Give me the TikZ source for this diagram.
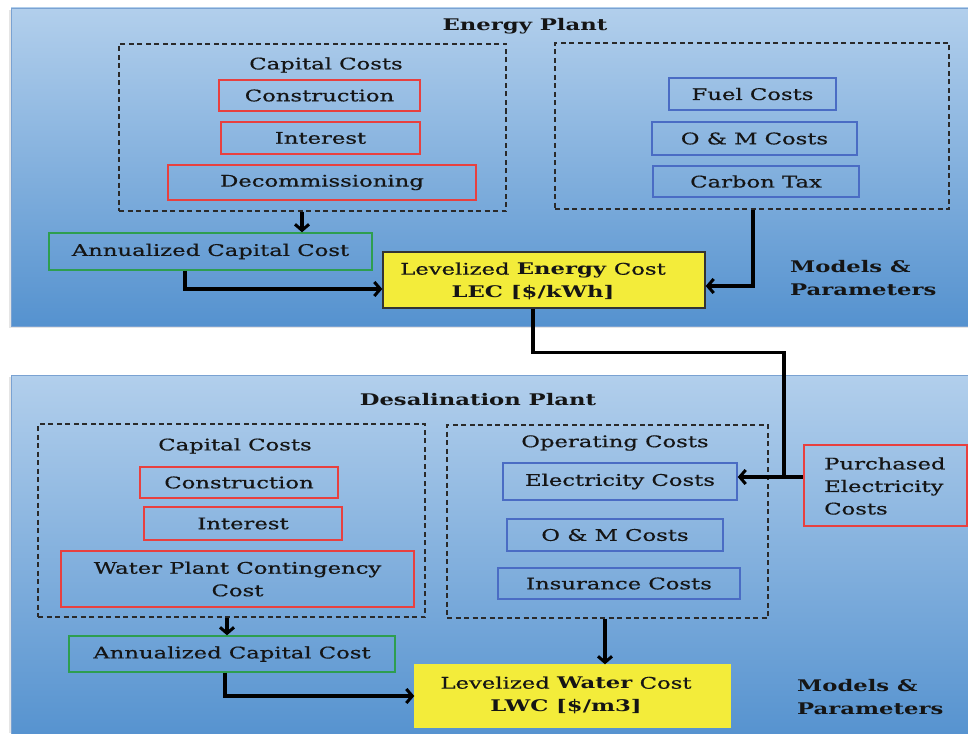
\documentclass[tikz,border=0pt]{standalone}
\usepackage{fontspec}
\setmainfont{DejaVu Serif}[FakeStretch=1.42, UprightFeatures={FakeBold=0.6}]
\usetikzlibrary{arrows.meta,calc}
\definecolor{panelTop}{HTML}{B2CFEC}
\definecolor{panelBot}{HTML}{5592CF}
\definecolor{panelLine}{HTML}{7AA2D2}
\definecolor{redc}{HTML}{E8403F}
\definecolor{bluec}{HTML}{4A6CC4}
\definecolor{greenc}{HTML}{2E9E50}
\definecolor{yel}{HTML}{F3EC3A}
\definecolor{dashc}{HTML}{2A2A2A}
\definecolor{txt}{HTML}{151515}
\newcommand{\fs}{\fontsize{16}{22.5}\selectfont}
\begin{document}
\begin{tikzpicture}[x=1pt,y=-1pt,
  lbl/.style={font=\fs, text=txt, inner sep=0pt, align=center},
  box/.style={draw, line width=1.4pt, inner sep=0pt, font=\fs, text=txt, align=center},
  redbox/.style={box, draw=redc},
  bluebox/.style={box, draw=bluec},
  greenbox/.style={box, draw=greenc},
  dbox/.style={draw=dashc, dash pattern=on 5pt off 3.5pt, line width=1.3pt, inner sep=0pt},
  conn/.style={line width=3.4pt, draw=black, line join=miter},
  arr/.style={conn, -{Straight Barb[length=6pt,width=14pt,line width=3pt]}},
  panel/.style={top color=panelTop, bottom color=panelBot, draw=panelLine, line width=0.8pt},
  shadowc/.style={fill=black!10},
]
\useasboundingbox (0,0) rectangle (968,733);
% panels
\fill[shadowc] (9,10) rectangle (968,328);
\path[panel] (11,8) rectangle (968,326);
\fill[shadowc] (9,377) rectangle (968,733);
\path[panel] (11,375) rectangle (968,740);

% ---------- Energy plant ----------
\node[lbl, font=\fs\bfseries] (tE) at (525,26) {Energy Plant};
\node[dbox, minimum width=387pt, minimum height=167pt] (capE) at (312.5,127.5) {};
\node[lbl] (capEt) at (326,65) {Capital Costs};
\node[redbox, minimum width=201pt, minimum height=31pt] (consE) at (319.5,95.5) {Construction};
\node[redbox, minimum width=199pt, minimum height=32pt] (intE) at (320.5,138) {Interest};
\node[redbox, minimum width=308pt, minimum height=35pt] (decE) at (322,182.5) {Decommissioning};
\node[greenbox, minimum width=323pt, minimum height=37pt] (annE) at (210.5,251.5) {Annualized Capital Cost};
\node[box, draw=black!80, fill=yel, minimum width=322pt, minimum height=56pt] (LEC) at (544,280) {};
\node[lbl] (LECt) at (533,281) {Levelized \textbf{Energy} Cost\\\textbf{LEC [\$/kWh]}};
\node[dbox, minimum width=394pt, minimum height=166pt] (opE) at (752,126) {};
\node[bluebox, minimum width=167pt, minimum height=32pt] (fuel) at (752.5,94) {Fuel Costs};
\node[bluebox, minimum width=205pt, minimum height=33pt] (omE) at (754.5,138.5) {O \& M Costs};
\node[bluebox, minimum width=206pt, minimum height=31pt] (carb) at (756,181.5) {Carbon Tax};
\node[lbl, font=\fs\bfseries, align=left, anchor=west] (mpE) at (790,278) {Models \&\\Parameters};

\draw[arr] ([xshift=-10.5pt]capE.south) -- ([xshift=-10.5pt]capE.south |- annE.north);
\draw[arr] ([xshift=-25.5pt]annE.south) |- ([yshift=-9pt]LEC.west);
\draw[arr] ([xshift=1pt]opE.south) |- ([yshift=-6pt]LEC.east);

% ---------- Desalination plant ----------
\node[lbl, font=\fs\bfseries] (tW) at (478,400) {Desalination Plant};
\node[dbox, minimum width=387pt, minimum height=193pt] (capW) at (231.5,520.5) {};
\node[lbl] (capWt) at (235,446) {Capital Costs};
\node[redbox, minimum width=198pt, minimum height=31pt] (consW) at (239,482.5) {Construction};
\node[redbox, minimum width=198pt, minimum height=33pt] (intW) at (243,523.5) {Interest};
\node[redbox, minimum width=353pt, minimum height=56pt] (wpcc) at (237.5,579) {Water Plant Contingency\\Cost};
\node[greenbox, minimum width=326pt, minimum height=36pt] (annW) at (232,654) {Annualized Capital Cost};
\node[box, draw=yel, fill=yel, minimum width=315pt, minimum height=62pt] (LWC) at (572.5,696) {};
\node[lbl] (LWCt) at (566,695) {Levelized \textbf{Water} Cost\\\textbf{LWC [\$/m3]}};
\node[dbox, minimum width=321pt, minimum height=193pt] (opW) at (607.5,521.5) {};
\node[lbl] (opWt) at (615,443) {Operating Costs};
\node[bluebox, minimum width=234pt, minimum height=37pt] (elec) at (620,481.5) {Electricity Costs};
\node[bluebox, minimum width=216pt, minimum height=32pt] (omW) at (615,535) {O \& M Costs};
\node[bluebox, minimum width=242pt, minimum height=31pt] (ins) at (619,583.5) {Insurance Costs};
\node[box, draw=redc, line width=2.2pt, minimum width=163pt, minimum height=81pt] (purch) at (885.5,485.5) {};
\node[lbl, align=left, anchor=west] (purcht) at (824,486) {Purchased\\Electricity\\Costs};
\node[lbl, font=\fs\bfseries, align=left, anchor=west] (mpW) at (797,697) {Models \&\\Parameters};

\draw[arr] ([xshift=-4.5pt]capW.south) -- ([xshift=-4.5pt]capW.south |- annW.north);
\draw[arr] ([xshift=-7pt]annW.south) |- (LWC.west);
\draw[arr] ([xshift=-2.5pt]opW.south) -- ([xshift=-2.5pt]opW.south |- LWC.north);

% ---------- link ----------
\coordinate (jn) at (784,477);
\draw[arr] ([yshift=8.5pt]purch.west) -- ([yshift=8.5pt]purch.west -| elec.east);
\draw[conn] ([xshift=-11pt]LEC.south) -- ++(0,44) -| ([yshift=1.7pt]jn);
\end{tikzpicture}
\end{document}
